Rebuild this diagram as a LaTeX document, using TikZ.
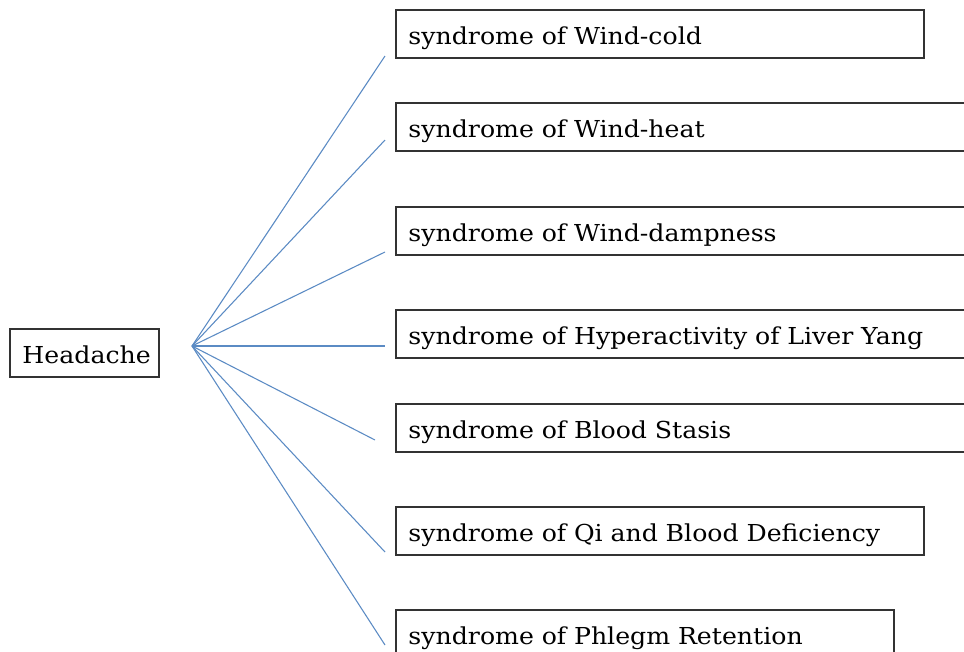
\documentclass[tikz,border=0pt]{standalone}
\usepackage{fontspec}
\setmainfont{DejaVu Serif}[FakeStretch=1.08]
\begin{document}
\begin{tikzpicture}[x=0.75pt,y=-0.75pt,
  box/.style={draw=black!80, line width=1.2pt, anchor=north west, minimum height=36pt,
    inner xsep=9.5pt, inner ysep=0pt, text height=25.9pt, text depth=10.1pt,
    align=left, font=\fontsize{17.5}{20}\selectfont},
  conn/.style={line width=0.8pt, draw={rgb,255:red,91;green,139;blue,196}}]
\clip (0,0) rectangle (964,651);
\fill[white] (0,0) rectangle (964,651);
\node[box, text width=111.75pt-19pt] (h) at (9,328) {Headache};
\coordinate (o) at (192,346);
\node[box, text width=396pt-19pt] (b1) at (395,9) {syndrome of Wind-cold};
\node[box, text width=440pt-19pt] (b2) at (395,102) {syndrome of Wind-heat};
\node[box, text width=440pt-19pt] (b3) at (395,206) {syndrome of Wind-dampness};
\node[box, text width=440pt-19pt] (b4) at (395,309) {syndrome of Hyperactivity of Liver Yang};
\node[box, text width=440pt-19pt] (b5) at (395,403) {syndrome of Blood Stasis};
\node[box, text width=396pt-19pt] (b6) at (395,506) {syndrome of Qi and Blood Deficiency};
\node[box, text width=373.5pt-19pt] (b7) at (395,609) {syndrome of Phlegm Retention};
\coordinate (e1) at (385,56);
\coordinate (e2) at (385,140);
\coordinate (e3) at (385,252);
\coordinate (e4) at (385,346);
\coordinate (e5) at (375,440);
\coordinate (e6) at (385,552);
\coordinate (e7) at (385,645);
\foreach \i in {1,...,7} \draw[conn] (o) -- (e\i);
\end{tikzpicture}
\end{document}
